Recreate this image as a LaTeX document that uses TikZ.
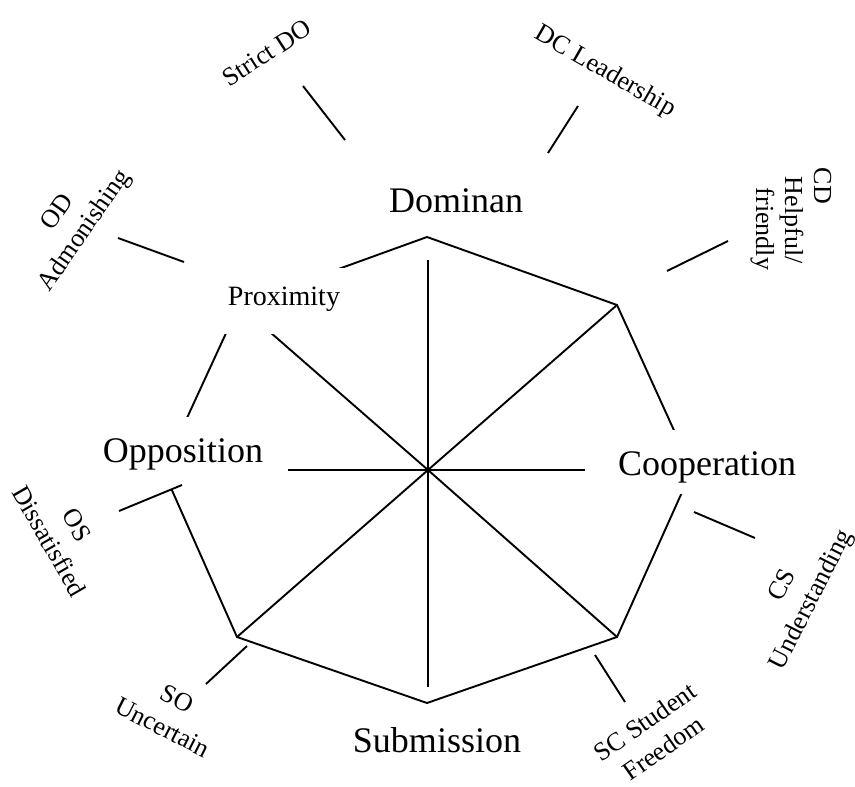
\documentclass[tikz,border=0pt]{standalone}
\usepackage{fontspec}
\setmainfont{Liberation Serif}
\begin{document}
\begin{tikzpicture}[x=1pt,y=-1pt,
  edge/.style={line width=1.9pt, line join=miter},
  tickline/.style={line width=1.9pt},
  mainlabel/.style={fill=white, font=\fontsize{36}{40}\selectfont, anchor=base},
  smalllabel/.style={font=\fontsize{26}{32}\selectfont, align=center, inner sep=4pt}]
\useasboundingbox (0,0) rectangle (855,787);
% octagon vertices
\coordinate (T)  at (427,237);
\coordinate (TR) at (617,305);
\coordinate (R)  at (692,470);
\coordinate (BR) at (617,637);
\coordinate (B)  at (427,703);
\coordinate (BL) at (237,637);
\coordinate (L)  at (163,470);
\coordinate (TL) at (239,305);
\coordinate (C)  at (428,470);
\coordinate (vt) at (428,260);
\coordinate (vb) at (428,687);
% polygon and spokes
\draw[edge] (T) -- (TR) -- (R) -- (BR) -- (B) -- (BL) -- (L) -- (TL) -- cycle;
\draw[edge] (L) -- (R);
\draw[edge] (vt) -- (vb);
\draw[edge] (C) -- (TR);
\draw[edge] (C) -- (BR);
\draw[edge] (C) -- (BL);
\draw[edge] (C) -- (TL);
% main labels
\node[mainlabel, text height=24pt, text depth=2pt, inner xsep=27pt, inner ysep=20pt] (dom) at (456,212) {Dominan};
\node[mainlabel, text height=25pt, text depth=8pt, inner xsep=25pt, inner ysep=20pt] (opp) at (183,462) {Opposition};
\node[mainlabel, text height=26pt, text depth=0pt, inner xsep=33pt, inner ysep=19pt] (coop) at (707,475) {Cooperation};
\node[mainlabel, text height=24pt, text depth=0pt, inner sep=12pt] (sub) at (437,752) {Submission};
\node[fill=white, anchor=base, font=\fontsize{28}{32}\selectfont, text height=22pt, text depth=14pt, inner xsep=23pt, inner ysep=15pt] (prox) at (284,305) {Proximity};
% small labels
\node[smalllabel, rotate=33]  (sdo) at (267,53)  {Strict DO};
\node[smalllabel, rotate=-30] (dcl) at (605,72)  {DC Leadership};
\node[smalllabel, rotate=-90, align=left, font=\fontsize{26}{29}\selectfont] (cdh) at (791,219) {CD\\\hspace*{9pt}Helpful/\\\hspace*{20pt}friendly};
\node[smalllabel, rotate=55]  (oda) at (72,222)  {OD\\Admonishing};
\node[smalllabel, rotate=-60] (osd) at (63,533)  {OS\\Dissatisfied};
\node[smalllabel, rotate=63]  (csu) at (798,593) {CS\\Understanding};
\node[smalllabel, rotate=35]  (scs) at (654,735) {SC Student\\Freedom};
\node[smalllabel, rotate=-27] (sou) at (170,713) {SO\\Uncertain};
% tick lines
\coordinate (sdo1) at (303,86);  \coordinate (sdo2) at (345,140);
\coordinate (dcl1) at (578,106); \coordinate (dcl2) at (548,153);
\coordinate (cdh1) at (728,241); \coordinate (cdh2) at (667,271);
\coordinate (oda1) at (118,238); \coordinate (oda2) at (184,262);
\coordinate (osd1) at (119,511); \coordinate (osd2) at (182,485);
\coordinate (csu1) at (755,538); \coordinate (csu2) at (694,512);
\coordinate (scs1) at (625,702); \coordinate (scs2) at (595,655);
\coordinate (sou1) at (206,684); \coordinate (sou2) at (247,646);
\draw[tickline] (sdo1) -- (sdo2);
\draw[tickline] (dcl1) -- (dcl2);
\draw[tickline] (cdh1) -- (cdh2);
\draw[tickline] (oda1) -- (oda2);
\draw[tickline] (osd1) -- (osd2);
\draw[tickline] (csu1) -- (csu2);
\draw[tickline] (scs1) -- (scs2);
\draw[tickline] (sou1) -- (sou2);
\end{tikzpicture}
\end{document}
